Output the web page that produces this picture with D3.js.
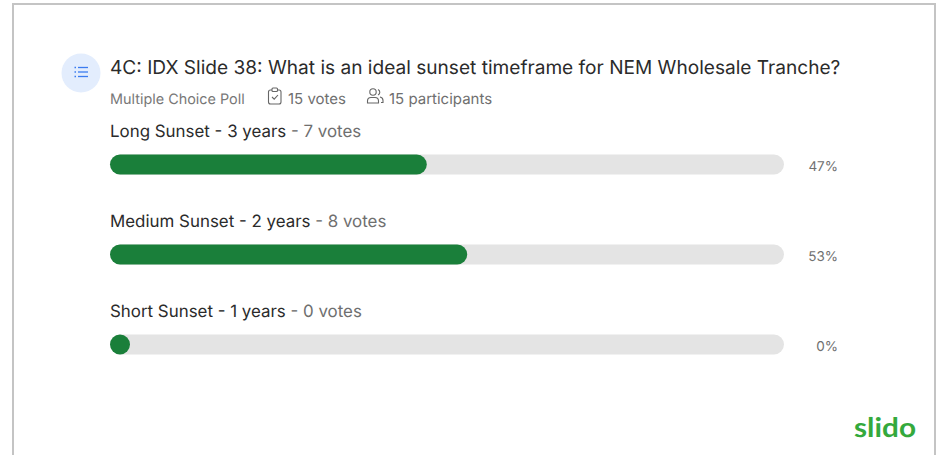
<!DOCTYPE html>
<html><head><meta charset="utf-8">
<script src="https://cdn.jsdelivr.net/npm/d3@7"></script>
<style>html,body{margin:0;padding:0;background:#fff}svg{display:block}text{font-family:Inter,sans-serif;text-rendering:geometricPrecision}</style>
</head><body><svg id="c" width="945" height="455"></svg>
<script>
const categories = ["Long Sunset - 3 years","Medium Sunset - 2 years","Short Sunset - 1 years"];
const votes = [7,8,0];
const percents = [47,53,0];
const title = "4C: IDX Slide 38: What is an ideal sunset timeframe for NEM Wholesale Tranche?";
const svg = d3.select("#c");
const x = d3.scaleLinear().domain([0,100]).range([110,784]);
const barH = 20;
svg.append("rect").attr("x",13).attr("y",4).attr("width",922).attr("height",470)
  .attr("fill","#fff").attr("stroke","#c4c4c4").attr("stroke-width",2);
svg.append("circle").attr("cx",81).attr("cy",73).attr("r",19.5).attr("fill","#e3edfd");
const ic = svg.append("g").attr("stroke","#3b7cf0").attr("stroke-width",1.3).attr("fill","none");
[67.5,72,76.5].forEach(v=>{
  ic.append("line").attr("x1",74.5).attr("x2",76).attr("y1",v).attr("y2",v);
  ic.append("line").attr("x1",78).attr("x2",88).attr("y1",v).attr("y2",v);
});
svg.append("text").attr("x",110).attr("y",74).attr("font-size",19.1).attr("fill","#2b2b2b").text(title);
svg.append("text").attr("x",110).attr("y",104).attr("font-size",14.4).attr("fill","#787878").text("Multiple Choice Poll");
svg.append("text").attr("x",288).attr("y",103.5).attr("font-size",15).attr("fill","#6f6f6f").text("15 votes");
svg.append("text").attr("x",389).attr("y",103.5).attr("font-size",15).attr("fill","#6f6f6f").text("15 participants");
const cl = svg.append("g").attr("fill","none").attr("stroke","#666").attr("stroke-width",1.1);
cl.append("rect").attr("x",268.5).attr("y",90).attr("width",12.5).attr("height",14).attr("rx",2);
cl.append("rect").attr("x",272).attr("y",88).attr("width",5.5).attr("height",3.5).attr("rx",1).attr("fill","#fff");
cl.append("path").attr("d","M272 97l2.2 2.2l3.8-4.2");
const pp = svg.append("g").attr("fill","none").attr("stroke","#666").attr("stroke-width",1.1);
pp.append("circle").attr("cx",373).attr("cy",92).attr("r",3.2);
pp.append("path").attr("d","M367.5 103v-2q0-3.5 3.5-3.5h4q3.5 0 3.5 3.5v2z");
pp.append("path").attr("d","M378 89.5a3 3 0 0 1 0 5.5M380 97q3 .5 3 3.5v2h-2");
const row = svg.selectAll("g.row").data(categories).join("g").attr("class","row");
const lab = row.append("text").attr("x",110).attr("y",(d,i)=>136.5+i*90).attr("font-size",16.9).attr("fill","#2b2b2b");
lab.append("tspan").text(d=>d);
lab.append("tspan").attr("fill","#6f6f6f").text((d,i)=>` - ${votes[i]} votes`);
row.append("rect").attr("x",x(0)).attr("y",(d,i)=>155+i*90-0.5).attr("width",x(100)-x(0)).attr("height",barH).attr("rx",10).attr("fill","#e4e4e4");
row.append("rect").attr("x",x(0)).attr("y",(d,i)=>155+i*90-0.5).attr("width",(d,i)=>Math.max(barH,x(percents[i])-x(0))).attr("height",barH).attr("rx",10).attr("fill","#1a7f3a");
row.append("text").attr("x",838).attr("text-anchor","end").attr("y",(d,i)=>171+i*90-0.5).attr("font-size",13.5).attr("fill","#6f6f6f").text((d,i)=>percents[i]+"%");
svg.append("text").attr("x",854).attr("y",437).attr("font-size",27).attr("font-weight",700).attr("fill","#34a93c").style("font-family","Lato").attr("textLength",62).attr("lengthAdjust","spacingAndGlyphs").text("slido");
</script></body></html>
